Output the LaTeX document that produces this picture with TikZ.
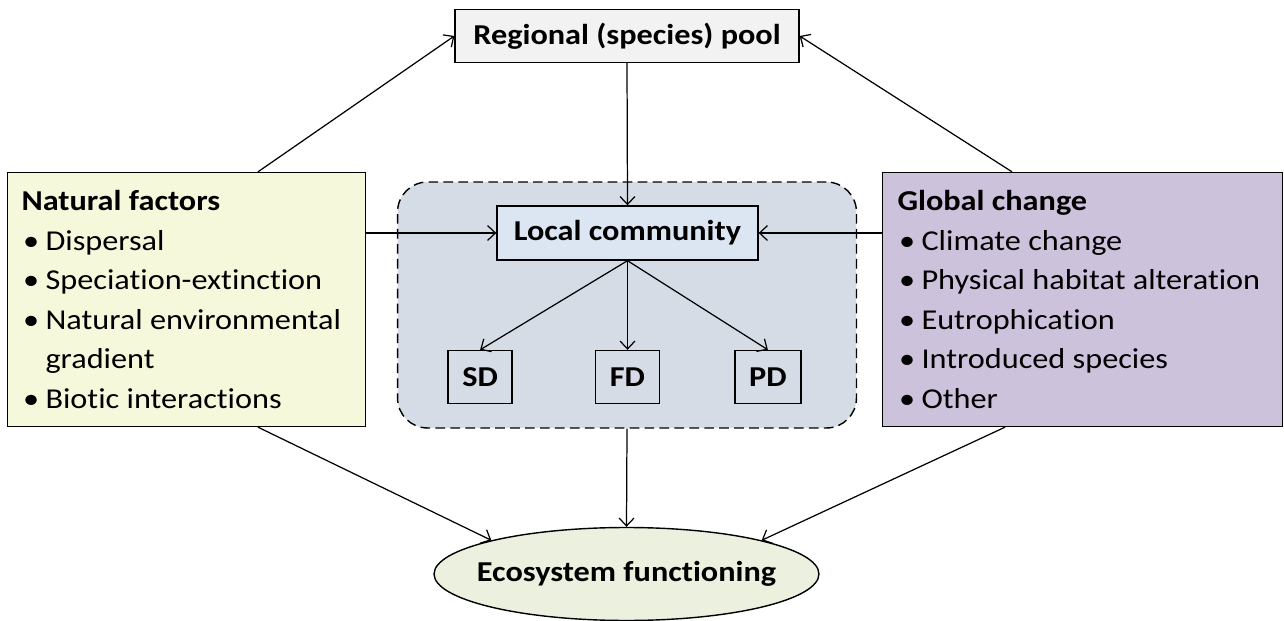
\documentclass[tikz,border=0pt]{standalone}
\usepackage{fontspec}
\setmainfont{Carlito}[FakeStretch=1.12,Ligatures=NoCommon]
\usetikzlibrary{arrows.meta,positioning,shapes.geometric}
\definecolor{poolfill}{HTML}{F2F2F2}
\definecolor{natfill}{HTML}{F6F8DC}
\definecolor{glbfill}{HTML}{CDC2DB}
\definecolor{comfill}{HTML}{D6DCE5}
\definecolor{locfill}{HTML}{DCE6F2}
\definecolor{ecofill}{HTML}{EBF1DE}
\newcommand{\bitem}{\makebox[0.48cm][l]{\hspace{0.03cm}\textbullet}}
\tikzset{
  txt/.style={font=\fontsize{16.4}{22.5}\selectfont},
  blk/.style={draw,rectangle,line width=0.8pt,font=\fontsize{16.4}{22.5}\selectfont\bfseries,inner sep=0pt},
  poolblk/.style={blk,fill=poolfill,minimum width=6.88cm,minimum height=1.06cm},
  locblk/.style={blk,fill=locfill,minimum width=5.22cm,minimum height=1.08cm},
  divblk/.style={blk,minimum width=1.28cm,minimum height=1.06cm},
  lstblk/.style={draw,rectangle,line width=0.8pt,txt,align=flush left,minimum height=5.08cm,inner sep=0pt},
  combox/.style={draw,rectangle,rounded corners=0.6cm,fill=comfill,line width=0.8pt,dash pattern=on 5.5pt off 3pt,minimum width=9.18cm,minimum height=4.92cm},
  ecoblk/.style={draw,ellipse,fill=ecofill,line width=0.8pt,font=\fontsize{16.4}{22.5}\selectfont\bfseries,minimum width=7.7cm,minimum height=1.86cm,inner xsep=-0.32cm,inner ysep=0pt},
  arr/.style={-{Straight Barb[length=4.5pt,width=8.5pt]},line width=0.7pt}
}
\begin{document}
\begin{tikzpicture}[x=0.02cm,y=-0.02cm]
  \useasboundingbox (0,0) rectangle (1284,621);

  \node[combox] (comm) at (627,305) {};
  \node[poolblk] (pool) at (627,36) {Regional (species) pool};
  \node[locblk] (loc) at (627.5,233) {Local community};
  \node[divblk] (fd) at (627.5,377) {FD};
  \node[divblk, left=1.64cm of fd] (sd) {SD};
  \node[divblk, right=1.48cm of fd, minimum width=1.32cm] (pd) {PD};

  \node[lstblk, fill=natfill, minimum width=7.16cm, text width=6.6cm] (nat) at (186.5,299.5)
    {\textbf{Natural factors}\\
     \bitem Dispersal\\
     \bitem Speciation-extinction\\
     \bitem Natural environmental\\
     \hspace*{0.48cm}gradient\\
     \bitem Biotic interactions};
  \node[lstblk, fill=glbfill, minimum width=8cm, text width=7.4cm] (glb) at (1082.5,299.5)
    {\textbf{Global change}\\
     \bitem Climate change\\
     \bitem Physical habitat alteration\\
     \bitem Eutrophication\\
     \bitem Introduced species\\
     \bitem Other};

  \node[ecoblk] (eco) at (626.5,574) {Ecosystem functioning};

  \draw[arr] ([xshift=1.43cm]nat.north) -- (pool.west);
  \draw[arr] ([xshift=-1.41cm]glb.north) -- (pool.east);
  \draw[arr] (pool.south) -- (loc.north);
  \draw[arr] (loc.west -| nat.east) -- (loc.west);
  \draw[arr] (loc.east -| glb.west) -- (loc.east);
  \draw[arr] (loc.south) -- (sd.north);
  \draw[arr] (loc.south) -- (fd.north);
  \draw[arr] (loc.south) -- (pd.north);
  \draw[arr] (comm.south) -- (eco.north);
  \draw[arr] ([xshift=1.43cm]nat.south) -- (eco.166);
  \draw[arr] ([xshift=-1.55cm]glb.south) -- (eco.14);
\end{tikzpicture}
\end{document}
